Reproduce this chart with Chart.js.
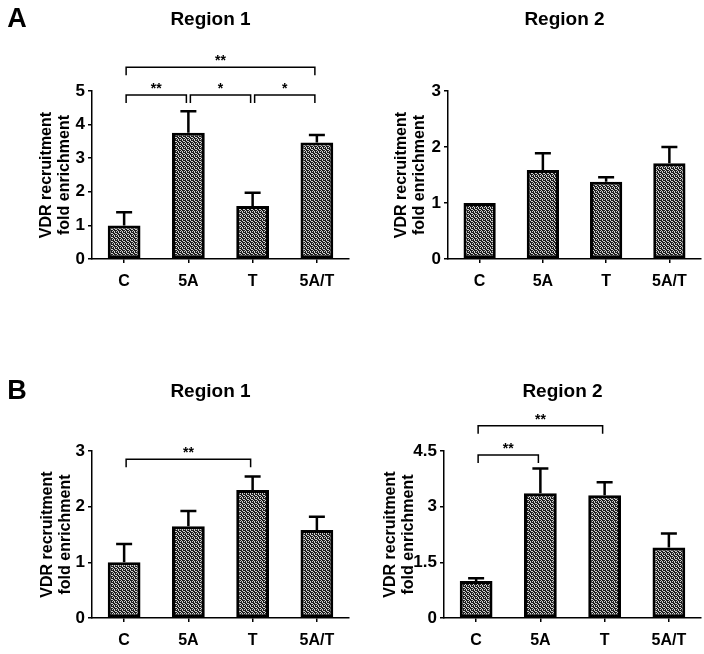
<!DOCTYPE html>
<html>
<head>
<meta charset="utf-8">
<script src="https://cdn.jsdelivr.net/npm/chart.js@4.4.1/dist/chart.umd.min.js"></script>
<style>
  body { margin: 0; background: #fff; }
  #wrap { position: relative; width: 704px; height: 654px; }
  canvas { position: absolute; }
</style>
</head>
<body>
<div id="wrap">
  <canvas id="a1" width="352" height="300" style="left:0;top:0"></canvas>
  <canvas id="a2" width="352" height="300" style="left:352px;top:0"></canvas>
  <canvas id="b1" width="352" height="324" style="left:0;top:330px"></canvas>
  <canvas id="b2" width="352" height="324" style="left:352px;top:330px"></canvas>
</div>
<script>
// data
const categories = ['C', '5A', 'T', '5A/T'];

const a1Values = [1.0, 3.76, 1.58, 3.47];
const a1Errors = [0.39, 0.64, 0.39, 0.22];
const a1Ticks = [0, 1, 2, 3, 4, 5];
const a1Signif = [[0, 3, 5.71, '**'], [0, 1, 4.88, '**'], [1, 2, 4.88, '*'], [2, 3, 4.88, '*']];

const a2Values = [1.0, 1.59, 1.38, 1.71];
const a2Errors = [0, 0.30, 0.08, 0.29];
const a2Ticks = [0, 1, 2, 3];
const a2Signif = [];

const b1Values = [1.0, 1.65, 2.30, 1.58];
const b1Errors = [0.33, 0.27, 0.24, 0.24];
const b1Ticks = [0, 1, 2, 3];
const b1Signif = [[0, 2, 2.85, '**']];

const b2Values = [1.0, 3.36, 3.31, 1.90];
const b2Errors = [0.07, 0.67, 0.35, 0.38];
const b2Ticks = [0, 1.5, 3, 4.5];
const b2Signif = [[0, 2, 5.18, '**'], [0, 1, 4.39, '**']];

const FONT = "'Liberation Sans', Arial, sans-serif";

// dark speckled texture like the printed bars
function makePattern() {
    const c = document.createElement('canvas');
    c.width = 4; c.height = 4;
    const g = c.getContext('2d');
    g.fillStyle = '#d0d0d0';
    g.fillRect(0, 0, 4, 4);
    g.fillStyle = '#1e1e1e';
    [[0,0],[1,0],[3,0],[1,1],[2,1],[0,2],[2,2],[3,2],[1,3],[3,3]].forEach(([x, y]) => g.fillRect(x, y, 1, 1));
    return g.createPattern(c, 'repeat');
}

const extras = {
    id: 'extras',
    afterDatasetsDraw(chart, args, opts) {
        const ctx = chart.ctx;
        const meta = chart.getDatasetMeta(0);
        const y = chart.scales.y;
        const vals = chart.data.datasets[0].data;
        ctx.save();
        ctx.strokeStyle = '#000';
        ctx.lineWidth = 2.5;
        // error bars (upper only)
        opts.errors.forEach((e, i) => {
            if (!e) return;
            const x = meta.data[i].x;
            const yt = y.getPixelForValue(vals[i]);
            const ye = y.getPixelForValue(vals[i] + e);
            ctx.beginPath();
            ctx.moveTo(x, yt);
            ctx.lineTo(x, ye);
            ctx.moveTo(x - 8, ye);
            ctx.lineTo(x + 8, ye);
            ctx.stroke();
        });
        // significance brackets
        ctx.lineWidth = 1.5;
        ctx.fillStyle = '#000';
        ctx.font = 'bold 14px ' + FONT;
        ctx.textAlign = 'center';
        ctx.textBaseline = 'alphabetic';
        opts.signif.forEach(([from, to, level, label]) => {
            const x1 = meta.data[from].x + 2;
            const x2 = meta.data[to].x - 2;
            const yl = y.getPixelForValue(level);
            ctx.beginPath();
            ctx.moveTo(x1, yl + 8);
            ctx.lineTo(x1, yl);
            ctx.lineTo(x2, yl);
            ctx.lineTo(x2, yl + 8);
            ctx.stroke();
            ctx.fillText(label, (x1 + x2) / 2, yl - 2);
        });
        // panel title and letter
        const ca = chart.chartArea;
        ctx.font = 'bold 19px ' + FONT;
        ctx.textBaseline = 'middle';
        ctx.fillText(opts.title, (ca.left + ca.right) / 2 - 10, opts.titleY);
        if (opts.letter) {
            ctx.font = 'bold 27px ' + FONT;
            ctx.fillText(opts.letter, 17, opts.titleY);
        }
        ctx.restore();
    }
};

function panel(id, values, errors, ticks, signif, cfg) {
    new Chart(document.getElementById(id), {
        type: 'bar',
        data: {
            labels: categories,
            datasets: [{
                data: values,
                backgroundColor: makePattern(),
                borderColor: '#000',
                borderWidth: 3,
                borderSkipped: false,
                categoryPercentage: 1,
                barPercentage: 0.51
            }]
        },
        options: {
            responsive: false,
            animation: false,
            devicePixelRatio: 1,
            layout: { padding: { left: 0, top: cfg.top, right: 3, bottom: 0 } },
            plugins: {
                legend: { display: false },
                tooltip: { enabled: false },
                extras: { errors: errors, signif: signif, title: cfg.title, titleY: cfg.titleY, letter: cfg.letter }
            },
            scales: {
                x: {
                    afterFit: s => { s.height = cfg.xh; },
                    border: { display: true, color: '#000', width: 1.5 },
                    grid: { offset: false, drawOnChartArea: false, drawTicks: true, tickLength: 4, color: '#000', lineWidth: 1.5 },
                    ticks: { color: '#000', padding: 9, font: { family: FONT, size: 16, weight: 'bold' } }
                },
                y: {
                    min: ticks[0],
                    max: ticks[ticks.length - 1],
                    afterFit: s => { s.width = cfg.yw; },
                    afterBuildTicks: s => { s.ticks = ticks.map(v => ({ value: v })); },
                    border: { display: true, color: '#000', width: 1.5 },
                    grid: { drawOnChartArea: false, drawTicks: true, tickLength: 4, color: '#000', lineWidth: 1.5 },
                    ticks: { color: '#000', padding: 3, font: { family: FONT, size: 17, weight: 'bold' } },
                    title: {
                        display: true,
                        text: ['VDR recruitment', 'fold enrichment'],
                        color: '#000',
                        font: { family: FONT, size: 16, weight: 'bold', lineHeight: 1.15 },
                        padding: { top: cfg.tpad, bottom: 0 }
                    }
                }
            }
        },
        plugins: [extras]
    });
}

panel('a1', a1Values, a1Errors, a1Ticks, a1Signif, { top: 91, xh: 41, yw: 92, tpad: 37, title: 'Region 1', titleY: 20, letter: 'A' });
panel('a2', a2Values, a2Errors, a2Ticks, a2Signif, { top: 91, xh: 41, yw: 96, tpad: 40, title: 'Region 2', titleY: 20 });
panel('b1', b1Values, b1Errors, b1Ticks, b1Signif, { top: 121, xh: 36, yw: 92, tpad: 38, title: 'Region 1', titleY: 62, letter: 'B' });
panel('b2', b2Values, b2Errors, b2Ticks, b2Signif, { top: 121, xh: 36, yw: 92, tpad: 29, title: 'Region 2', titleY: 62 });
</script>
</body>
</html>
